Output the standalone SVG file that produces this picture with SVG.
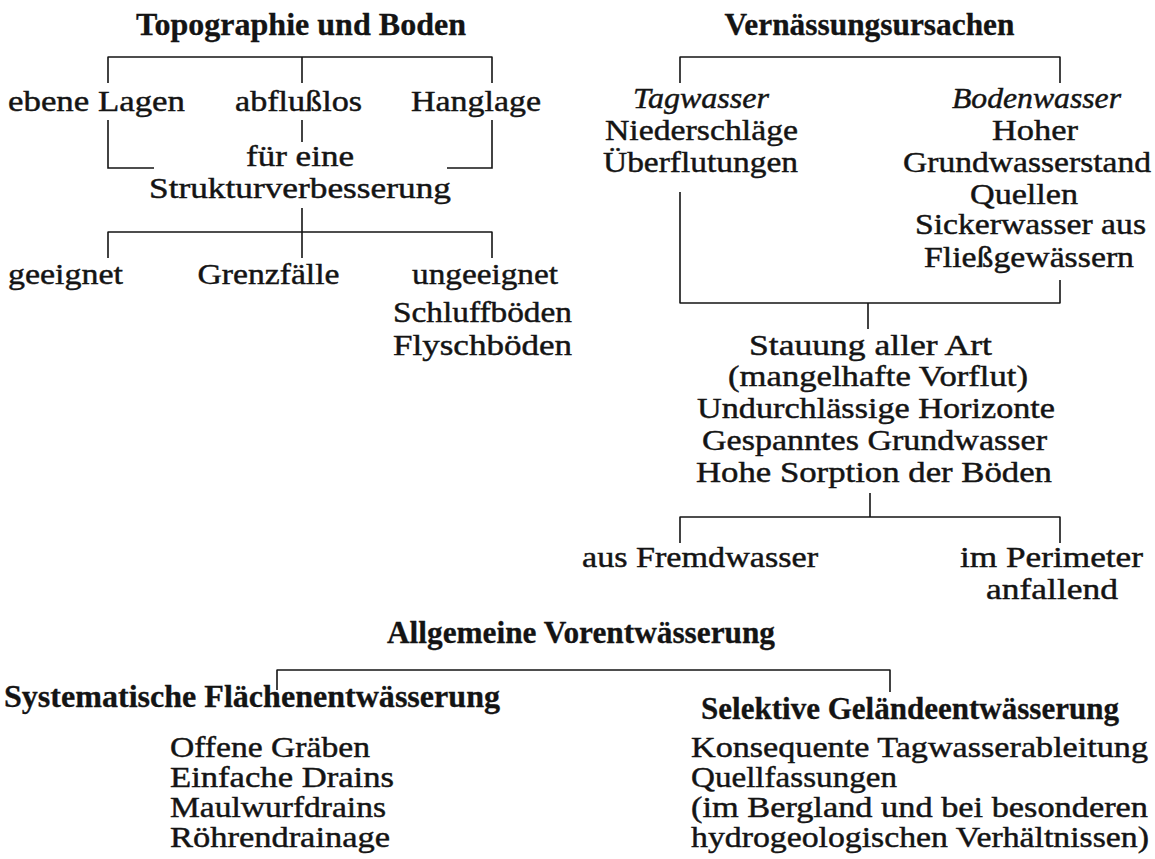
<svg xmlns="http://www.w3.org/2000/svg" width="1155" height="859" viewBox="0 0 1155 859">
<style>
text{font-family:"Liberation Serif","DejaVu Serif","Times New Roman",serif;font-weight:normal;font-size:30px;fill:#141414;stroke:#141414;stroke-width:0.45px}
.b{font-weight:bold;font-size:31px;stroke-width:0.3px}
.i{font-style:italic}
.ln{stroke:#141414;stroke-width:1.6;fill:none}
</style>
<rect width="1155" height="859" fill="#fff"/>
<g id="connectors" class="ln">
<path d="M107.5 57H492.5M108 57V83M302 57V83M492 57V83"/>
<path d="M108 120V168H154M492 120V168H447M302 120V142"/>
<path d="M302 208V232M107.5 232H492.5M108 232V258M302 232V258M492 232V258"/>
<path d="M679.5 57H1060.5M680 57V83M1060 57V83"/>
<path d="M680 192V303M1060 280V303M679.5 303H1060.5M868 303V329"/>
<path d="M870 493V517M679.5 517H1060.5M680 517V543M1060 517V543"/>
<path d="M276.5 670H890.5M277 670V690M890 670V692"/>
</g>
<g id="n-topo"><text class="b" x="136" y="35" textLength="330" lengthAdjust="spacingAndGlyphs">Topographie und Boden</text></g>
<g id="n-ebene"><text x="8" y="111" textLength="177" lengthAdjust="spacingAndGlyphs">ebene Lagen</text></g>
<g id="n-abfluss"><text x="235" y="111" textLength="127" lengthAdjust="spacingAndGlyphs">abflußlos</text></g>
<g id="n-hang"><text x="411" y="111" textLength="130" lengthAdjust="spacingAndGlyphs">Hanglage</text></g>
<g id="n-struktur"><text x="246" y="166" textLength="108" lengthAdjust="spacingAndGlyphs">für eine</text><text x="149" y="197.5" textLength="302" lengthAdjust="spacingAndGlyphs">Strukturverbesserung</text></g>
<g id="n-geeignet"><text x="8" y="284" textLength="115" lengthAdjust="spacingAndGlyphs">geeignet</text></g>
<g id="n-grenz"><text x="197.5" y="284" textLength="142" lengthAdjust="spacingAndGlyphs">Grenzfälle</text></g>
<g id="n-ungeeignet"><text x="412" y="284" textLength="146" lengthAdjust="spacingAndGlyphs">ungeeignet</text><text x="393" y="322" textLength="179" lengthAdjust="spacingAndGlyphs">Schluffböden</text><text x="393" y="355" textLength="179" lengthAdjust="spacingAndGlyphs">Flyschböden</text></g>
<g id="n-vern"><text class="b" x="724.5" y="35" textLength="290" lengthAdjust="spacingAndGlyphs">Vernässungsursachen</text></g>
<g id="n-tag"><text class="i" x="633" y="108" textLength="136" lengthAdjust="spacingAndGlyphs">Tagwasser</text><text x="605" y="140" textLength="193" lengthAdjust="spacingAndGlyphs">Niederschläge</text><text x="603" y="172" textLength="195" lengthAdjust="spacingAndGlyphs">Überflutungen</text></g>
<g id="n-boden"><text class="i" x="952" y="108" textLength="169" lengthAdjust="spacingAndGlyphs">Bodenwasser</text><text x="992" y="140" textLength="86" lengthAdjust="spacingAndGlyphs">Hoher</text><text x="903" y="172" textLength="248" lengthAdjust="spacingAndGlyphs">Grundwasserstand</text><text x="970" y="203.5" textLength="108" lengthAdjust="spacingAndGlyphs">Quellen</text><text x="915" y="234" textLength="231" lengthAdjust="spacingAndGlyphs">Sickerwasser aus</text><text x="924" y="267" textLength="210" lengthAdjust="spacingAndGlyphs">Fließgewässern</text></g>
<g id="n-stauung"><text x="749" y="355" textLength="243" lengthAdjust="spacingAndGlyphs">Stauung aller Art</text><text x="728" y="386" textLength="300" lengthAdjust="spacingAndGlyphs">(mangelhafte Vorflut)</text><text x="697" y="418" textLength="358" lengthAdjust="spacingAndGlyphs">Undurchlässige Horizonte</text><text x="702" y="450" textLength="345" lengthAdjust="spacingAndGlyphs">Gespanntes Grundwasser</text><text x="696" y="482" textLength="356" lengthAdjust="spacingAndGlyphs">Hohe Sorption der Böden</text></g>
<g id="n-fremd"><text x="582" y="567" textLength="236" lengthAdjust="spacingAndGlyphs">aus Fremdwasser</text></g>
<g id="n-perim"><text x="960" y="567" textLength="183" lengthAdjust="spacingAndGlyphs">im Perimeter</text><text x="986" y="598.5" textLength="132" lengthAdjust="spacingAndGlyphs">anfallend</text></g>
<g id="n-allg"><text class="b" x="387" y="643" textLength="388" lengthAdjust="spacingAndGlyphs">Allgemeine Vorentwässerung</text></g>
<g id="n-syst"><text class="b" x="4" y="707" textLength="496" lengthAdjust="spacingAndGlyphs">Systematische Flächenentwässerung</text><text x="170" y="757" textLength="200" lengthAdjust="spacingAndGlyphs">Offene Gräben</text><text x="170" y="787" textLength="224" lengthAdjust="spacingAndGlyphs">Einfache Drains</text><text x="170" y="817" textLength="216" lengthAdjust="spacingAndGlyphs">Maulwurfdrains</text><text x="170" y="847" textLength="220" lengthAdjust="spacingAndGlyphs">Röhrendrainage</text></g>
<g id="n-selekt"><text class="b" x="701" y="719" textLength="418" lengthAdjust="spacingAndGlyphs">Selektive Geländeentwässerung</text><text x="691" y="757" textLength="457" lengthAdjust="spacingAndGlyphs">Konsequente Tagwasserableitung</text><text x="691" y="787" textLength="206" lengthAdjust="spacingAndGlyphs">Quellfassungen</text><text x="691" y="817" textLength="457" lengthAdjust="spacingAndGlyphs">(im Bergland und bei besonderen</text><text x="691" y="847" textLength="458" lengthAdjust="spacingAndGlyphs">hydrogeologischen Verhältnissen)</text></g>
</svg>
